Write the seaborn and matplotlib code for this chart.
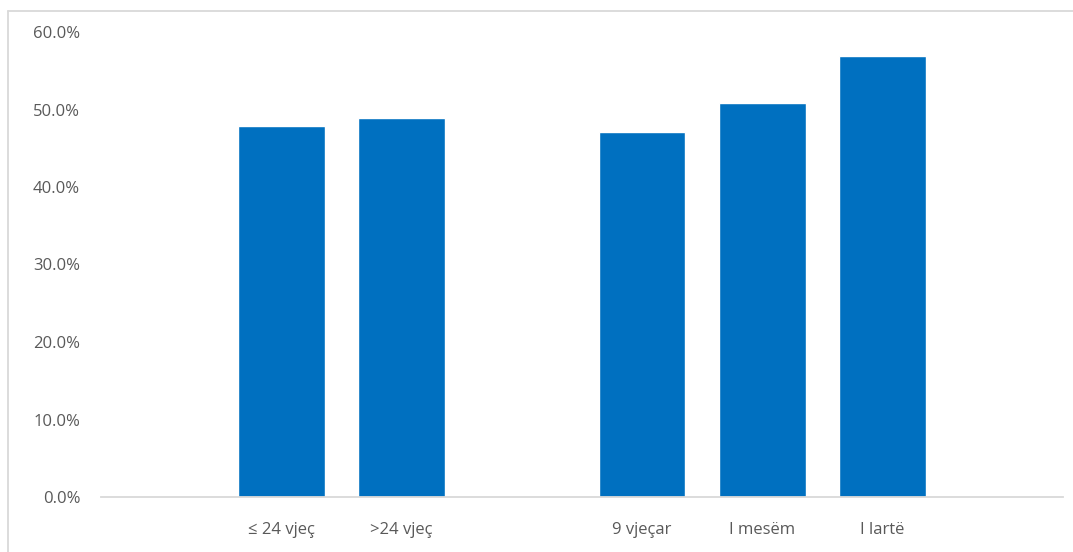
import numpy as np
import pandas as pd
import matplotlib
matplotlib.use("Agg")
import matplotlib.pyplot as plt
from matplotlib.ticker import PercentFormatter, MultipleLocator
from matplotlib.lines import Line2D
import seaborn as sns

# Category slots (blank slots separate the age and education groups)
categories = ["", "≤ 24 vjeç", ">24 vjeç", " ", "9 vjeçar", "I mesëm", "I lartë", "  "]
values = [np.nan, 47.9, 48.9, np.nan, 47.1, 50.8, 56.9, np.nan]

sns.set_theme(style="white")
plt.rcParams["font.family"] = ["Open Sans", "DejaVu Sans"]

W, H = 1073, 552
fig = plt.figure(figsize=(W / 100, H / 100), dpi=100)
ax = fig.add_axes([101 / W, (H - 497) / H, (1063 - 101) / W, (497 - 32) / H])

df = pd.DataFrame({"cat": categories, "val": values}).dropna()
sns.barplot(data=df, x="cat", y="val", order=categories, color="#0070C0",
            saturation=1, width=0.72, ax=ax)

ax.set_ylim(0, 60)
ax.set_xlim(-0.5, len(categories) - 0.5)
ax.yaxis.set_major_locator(MultipleLocator(10))
ax.yaxis.set_major_formatter(PercentFormatter(100, decimals=1))
ax.set_xlabel("")
ax.set_ylabel("")

for side in ["top", "right", "left"]:
    ax.spines[side].set_visible(False)
ax.spines["bottom"].set_color("#d9d9d9")
ax.spines["bottom"].set_linewidth(1.3)

ax.tick_params(axis="both", length=0, colors="#595959", labelsize=12)
ax.tick_params(axis="y", pad=15)
ax.tick_params(axis="x", pad=18)
ax.grid(False)

# Chart area frame
fig.add_artist(Line2D([8 / W, 8 / W], [0, (H - 11) / H], transform=fig.transFigure,
                      color="#d9d9d9", lw=1.3))
fig.add_artist(Line2D([8 / W, 1], [(H - 11) / H, (H - 11) / H], transform=fig.transFigure,
                      color="#d9d9d9", lw=1.3))

fig.savefig("out.png", dpi=100, facecolor="white")
